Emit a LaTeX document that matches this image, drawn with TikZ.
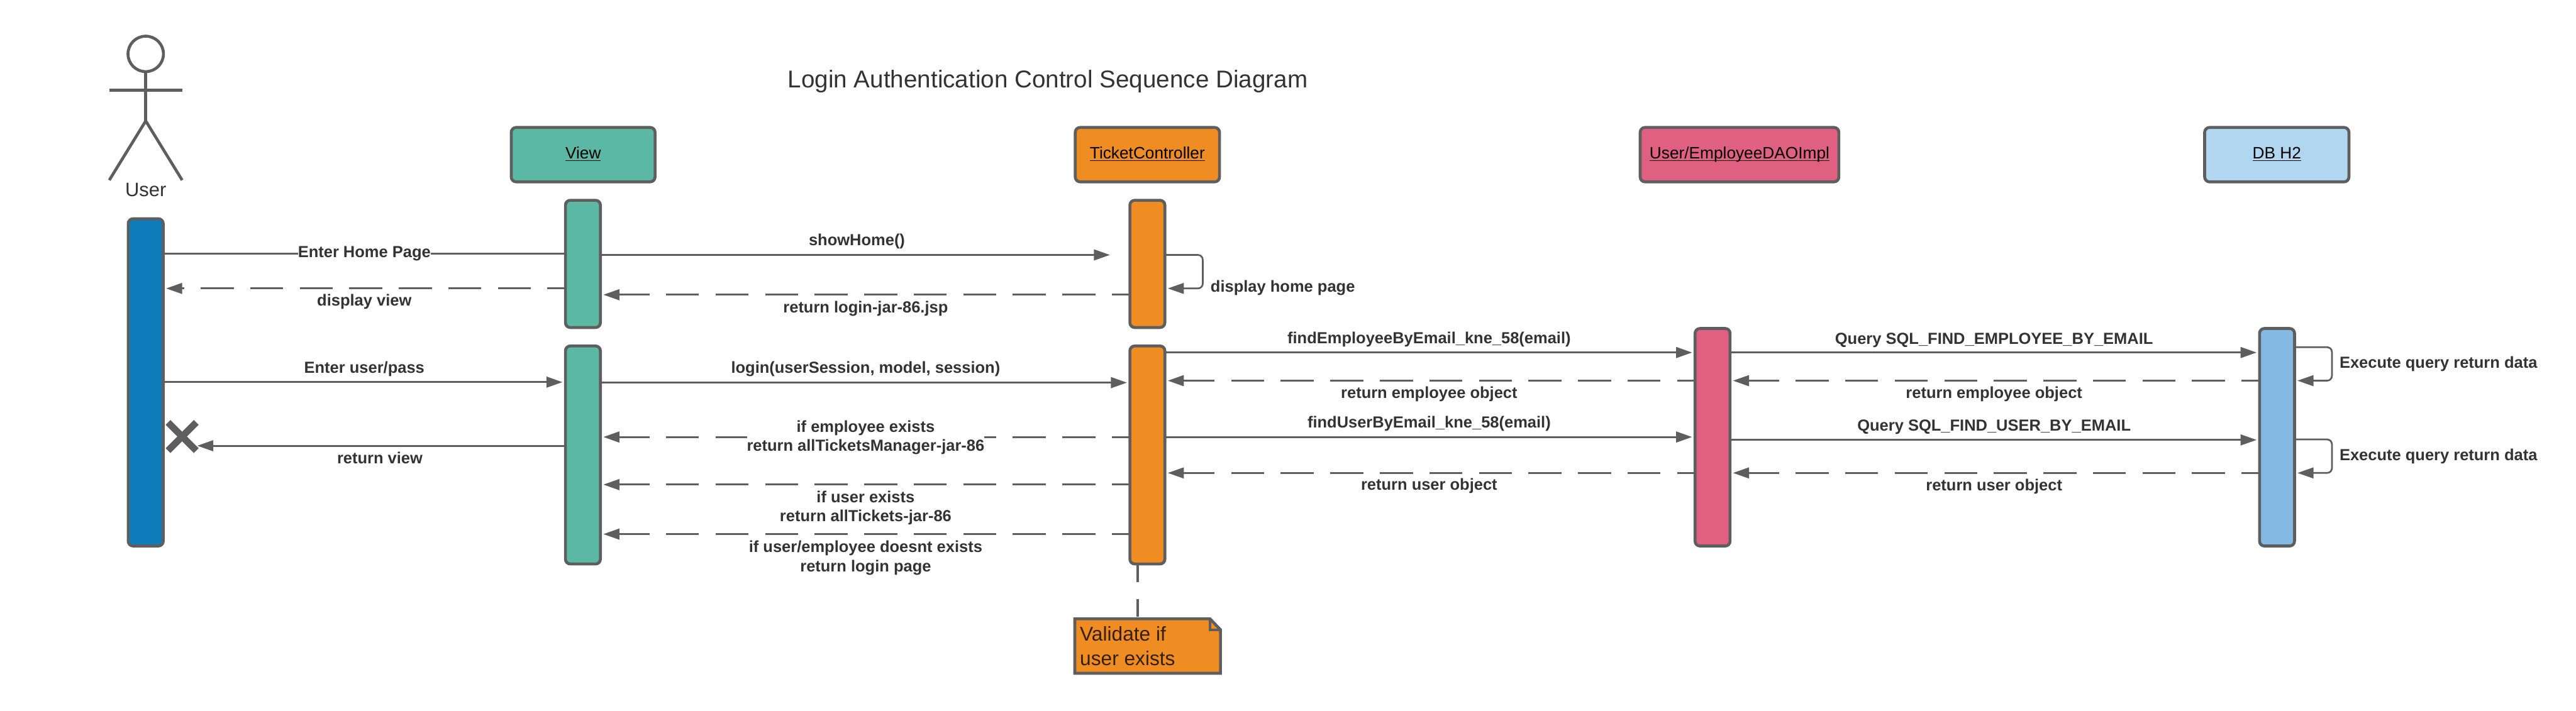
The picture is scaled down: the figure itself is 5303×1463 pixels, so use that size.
\documentclass[tikz,border=0pt]{standalone}
\usepackage{fontspec}
\setmainfont{Liberation Sans}
\usetikzlibrary{arrows.meta}
\definecolor{ln}{HTML}{5E5E5E}
\definecolor{txt}{HTML}{333333}
\definecolor{teal}{HTML}{5BB8A4}
\definecolor{orng}{HTML}{EF8C22}
\definecolor{pnk}{HTML}{E06082}
\definecolor{ltb}{HTML}{B0D6F0}
\definecolor{midb}{HTML}{83B9E3}
\definecolor{usrb}{HTML}{0F7CBC}
\newcommand{\hdr}[1]{\setbox0\hbox{#1}\rlap{\rule[-5pt]{\wd0}{2.5pt}}\box0}
\tikzset{
  x=1pt,y=-1pt,
  boxed/.style={draw=ln,line width=6pt,rounded corners=10pt,inner sep=0pt,outer sep=0pt},
  header/.style={boxed,minimum height=112pt,text=black,text height=31pt,text depth=14pt,
    font=\fontsize{34}{40}\selectfont},
  activ/.style={boxed,minimum width=72pt},
  msg/.style={draw=ln,line width=4pt,shorten >=6pt,-{Triangle[length=33pt,width=22pt]}},
  plainmsg/.style={draw=ln,line width=4pt},
  ret/.style={msg,dash pattern=on 68pt off 34pt,dash phase=31pt},
  selfmsg/.style={msg,rounded corners=10pt,line width=3.5pt},
  lbl/.style={anchor=base,inner sep=0pt,yshift=-2.5pt,text=txt,font=\fontsize{33}{40}\selectfont\bfseries},
  lblw/.style={lbl,anchor=base west},
  lblm/.style={inner sep=0pt,yshift=-2.5pt,text=txt,align=center,font=\fontsize{33}{40}\selectfont\bfseries},
  actor/.style={draw=ln,line width=6pt},
}
\begin{document}
\begin{tikzpicture}
\useasboundingbox (0,0) rectangle (5303,1463);
\fill[white] (0,0) rectangle (5303,1463);

% title
\node[anchor=base,inner sep=0pt,text=txt,font=\fontsize{50}{60}\selectfont] (title) at (2157,180) {Login Authentication Control Sequence Diagram};

% actor
\node[actor,circle,minimum size=73pt,inner sep=0pt,outer sep=0pt] (head) at (300,111) {};
\coordinate (hip) at (300,249);
\coordinate (armL) at (225,186);
\coordinate (armR) at (375,186);
\coordinate (legL) at (225,371);
\coordinate (legR) at (375,371);
\draw[actor] (head.south) -- (hip);
\draw[actor] (armL) -- (armR);
\draw[actor,line join=round] (legL) -- (hip) -- (legR);
\node[anchor=base,inner sep=0pt,text=txt,font=\fontsize{40}{48}\selectfont] (userlbl) at (300,404) {User};

% headers
\node[header,fill=teal,minimum width=296pt] (hView) at (1200.5,318.5) {\hdr{View}};
\node[header,fill=orng,minimum width=297pt] (hCtrl) at (2362,318.5) {\hdr{TicketController}};
\node[header,fill=pnk,minimum width=409pt] (hDao) at (3581,318.5) {\hdr{User/EmployeeDAOImpl}};
\node[header,fill=ltb,minimum width=297pt] (hDb) at (4687,318.5) {\hdr{DB H2}};

% activations
\node[activ,fill=usrb,minimum height=674pt] (aUser) at (300,787.5) {};
\node[activ,fill=teal,minimum height=262pt] (aView1) at (1200,543.5) {};
\node[activ,fill=teal,minimum height=449pt] (aView2) at (1200,937) {};
\node[activ,fill=orng,minimum height=262pt] (aCtrl1) at (2362,543.5) {};
\node[activ,fill=orng,minimum height=449pt] (aCtrl2) at (2362,937) {};
\node[activ,fill=pnk,minimum height=448pt] (aDao) at (3525.5,900.5) {};
\node[activ,fill=midb,minimum height=448pt] (aDb) at (4687.5,900.5) {};

% lost / destroyed end
\coordinate (xm) at (375,899);
\draw[ln,line width=14pt] (xm) ++(-29,-29) -- ++(58,58);
\draw[ln,line width=14pt] (xm) ++(29,-29) -- ++(-58,58);
\coordinate (lostEnd) at (406,918);
\coordinate (homeEnd) at (2285,525);

% messages
\draw[plainmsg] (aUser.east |- 0,522) -- (aView1.west |- 0,522);
\node[lbl,fill=white] (l1) at (750,528) {Enter Home Page};
\draw[ret] (aView1.west |- 0,594) -- (aUser.east |- 0,594);
\node[lbl] (l2) at (750,628) {display view};
\draw[msg,shorten >=0pt] (aView1.east |- 0,525) -- (homeEnd);
\node[lbl] (l3) at (1764,503) {showHome()};
\draw[ret] (aCtrl1.west |- 0,607) -- (aView1.east |- 0,607);
\node[lbl] (l4) at (1782,641) {return login-jar-86.jsp};
\draw[selfmsg] (aCtrl1.east |- 0,525) -- ++(78,0) -- ++(0,69) -- (aCtrl1.east |- 0,594);
\node[lblw] (l5) at (2492,599) {display home page};

\draw[msg] (aUser.east |- 0,787) -- (aView2.west |- 0,787);
\node[lbl] (l6) at (750,766) {Enter user/pass};
\draw[msg] (aView2.east |- 0,788) -- (aCtrl2.west |- 0,788);
\node[lbl] (l7) at (1782,766) {login(userSession, model, session)};

\draw[msg,shorten >=0pt] (aView2.west |- 0,918) -- (lostEnd);
\node[lbl] (l8) at (782,952) {return view};

\draw[ret] (aCtrl2.west |- 0,900) -- (aView2.east |- 0,900);
\node[lblm,fill=white] (l9) at (1782,898.5) {if employee exists\\return allTicketsManager-jar-86};
\draw[ret] (aCtrl2.west |- 0,998) -- (aView2.east |- 0,998);
\node[lblm] (l10) at (1782,1043.5) {if user exists\\return allTickets-jar-86};
\draw[ret] (aCtrl2.west |- 0,1100) -- (aView2.east |- 0,1100);
\node[lblm] (l11) at (1782,1146) {if user/employee doesnt exists\\return login page};

\draw[msg] (aCtrl2.east |- 0,726) -- (aDao.west |- 0,726);
\node[lbl] (l12) at (2942,705) {findEmployeeByEmail\_kne\_58(email)};
\draw[ret] (aDao.west |- 0,784) -- (aCtrl2.east |- 0,784);
\node[lbl] (l13) at (2942,818) {return employee object};
\draw[msg] (aCtrl2.east |- 0,900) -- (aDao.west |- 0,900);
\node[lbl] (l14) at (2942,878) {findUserByEmail\_kne\_58(email)};
\draw[ret] (aDao.west |- 0,974) -- (aCtrl2.east |- 0,974);
\node[lbl] (l15) at (2942,1007) {return user object};

\draw[msg] (aDao.east |- 0,726) -- (aDb.west |- 0,726);
\node[lbl] (l16) at (4105,706) {Query SQL\_FIND\_EMPLOYEE\_BY\_EMAIL};
\draw[ret] (aDb.west |- 0,784) -- (aDao.east |- 0,784);
\node[lbl] (l17) at (4105,818) {return employee object};
\draw[msg] (aDao.east |- 0,906) -- (aDb.west |- 0,906);
\node[lbl] (l18) at (4105,885) {Query SQL\_FIND\_USER\_BY\_EMAIL};
\draw[ret] (aDb.west |- 0,974) -- (aDao.east |- 0,974);
\node[lbl] (l19) at (4105,1008) {return user object};

\draw[selfmsg] (aDb.east |- 0,715) -- ++(77,0) -- ++(0,69) -- (aDb.east |- 0,784);
\node[lblw] (l20) at (4816,756) {Execute query return data};
\draw[selfmsg] (aDb.east |- 0,905) -- ++(77,0) -- ++(0,69) -- (aDb.east |- 0,974);
\node[lblw] (l21) at (4816,946) {Execute query return data};

% note
\coordinate (nTL) at (2212.5,1274.5);
\coordinate (nBR) at (2512.5,1386.5);
\draw[ln,line width=4pt,dash pattern=on 37pt off 35pt] (aCtrl2.south -| 2342,0) -- (2342,1274);
\draw[draw=ln,fill=orng,line width=6pt,line join=miter]
  (nTL) -- (2491,1274.5) -- (2512.5,1297) -- (nBR) -- (2212.5,1386.5) -- cycle;
\draw[ln,line width=5pt] (2491,1274.5) -- (2491,1297) -- (2512.5,1297);
\node[anchor=north west,inner sep=0pt,align=left,text=black!78!orng,font=\fontsize{41}{50}\selectfont] (noteText) at (2223,1290) {Validate if\\user exists};
\end{tikzpicture}
\end{document}
